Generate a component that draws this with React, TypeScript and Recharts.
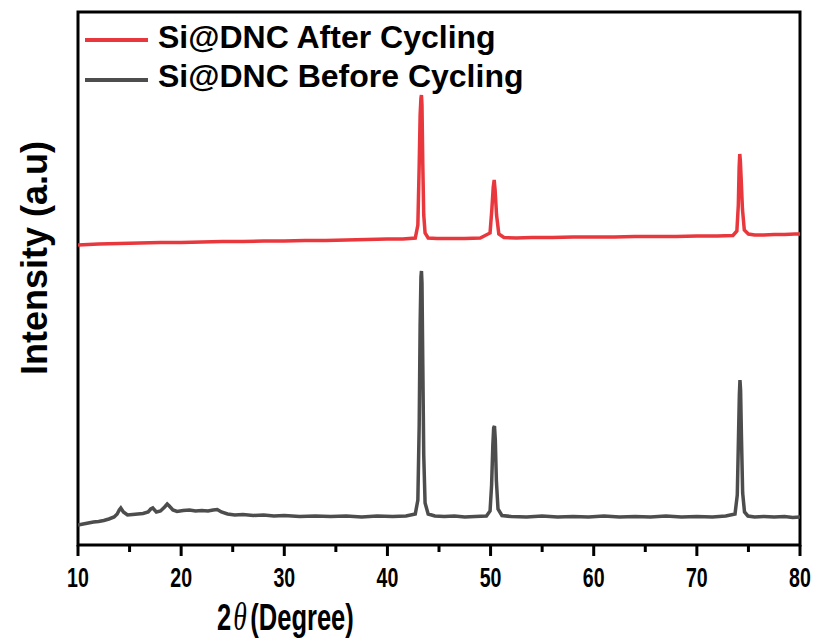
import React from 'react';
import { LineChart, Line, XAxis, YAxis, ReferenceArea, Legend } from 'recharts';

// 2θ (degree) and intensity (a.u.) for each pattern
const beforeTheta = [10, 10.5, 11, 11.5, 12, 12.5, 13, 13.5, 13.8, 14.0, 14.15, 14.4, 14.8, 15.3, 15.8, 16.3, 16.8, 17.05, 17.25, 17.6, 18.0, 18.4, 18.65, 18.85, 19.2, 19.6, 20.2, 20.8, 21.4, 22.0, 22.6, 23.1, 23.5, 23.9, 24.5, 25.2, 26.0, 27.0, 28.0, 29.0, 30.0, 31.5, 33.0, 34.5, 36.0, 37.5, 39.0, 40.5, 41.8, 42.7, 42.95, 43.08, 43.17, 43.25, 43.3, 43.35, 43.43, 43.52, 43.65, 43.95, 44.6, 45.5, 46.5, 47.5, 48.5, 49.6, 49.95, 50.1, 50.22, 50.3, 50.38, 50.46, 50.56, 50.72, 51.1, 52.0, 53.5, 55.0, 56.5, 58.0, 59.5, 61.0, 62.5, 64.0, 65.5, 67.0, 68.5, 70.0, 71.5, 72.8, 73.7, 73.92, 74.04, 74.12, 74.18, 74.24, 74.32, 74.44, 74.62, 74.95, 75.6, 76.5, 77.5, 78.5, 79.3, 80];
const beforeIntensity = [20, 21, 22, 23, 23.5, 24.5, 26, 28, 31, 35, 37, 33, 30, 30.5, 31, 31.5, 33, 36, 37, 33, 34, 38, 41, 39, 35, 33.5, 34.5, 35, 34, 34.5, 34, 35, 35.5, 33, 31, 30, 30.5, 29.5, 30, 29, 29.5, 28.5, 29, 28.5, 29, 28, 29, 28.5, 29, 31, 45, 120, 220, 268, 274, 262, 180, 90, 42, 31, 29, 28.5, 29, 28, 28.5, 29, 34, 60, 100, 117, 119, 105, 65, 36, 29.5, 28.5, 28, 29, 28, 28.5, 28, 29, 28, 28.5, 28, 29, 28, 28.5, 28, 29, 31, 50, 110, 150, 165, 155, 110, 52, 33, 29, 28, 28.5, 28, 28.5, 27.5, 28];

const afterTheta = [10, 12, 14, 16, 18, 20, 22, 24, 26, 28, 30, 32, 34, 36, 38, 40, 41.5, 42.7, 42.95, 43.08, 43.17, 43.25, 43.3, 43.35, 43.43, 43.52, 43.65, 43.95, 44.8, 46.0, 47.5, 49.0, 49.95, 50.12, 50.26, 50.35, 50.44, 50.58, 50.8, 51.3, 52.5, 54.0, 56.0, 58.0, 60.0, 62.0, 64.0, 66.0, 68.0, 70.0, 72.0, 73.5, 73.88, 74.02, 74.1, 74.16, 74.22, 74.3, 74.42, 74.6, 75.0, 75.6, 76.5, 77.5, 78.5, 79.5, 80];
const afterIntensity = [300, 301, 301.5, 302, 302.5, 302.5, 303, 303.5, 303.5, 304, 304, 304.5, 304.5, 305, 305.5, 306, 306, 307, 320, 380, 430, 447, 450, 440, 380, 330, 312, 307, 306.5, 306.5, 306.5, 307, 312, 335, 358, 365, 355, 330, 311, 307.5, 307, 307.5, 307.5, 308, 308, 308, 308.5, 308.5, 308.5, 309, 309, 309.5, 314, 340, 378, 391, 384, 365, 336, 315, 311, 310, 310, 310.5, 310.5, 311, 311];

const xTicks = [10, 15, 20, 25, 30, 35, 40, 45, 50, 55, 60, 65, 70, 75, 80];
const seriesNames = ['Si@DNC After Cycling', 'Si@DNC Before Cycling'];
const seriesColors = ['#e8383d', '#4d4d4d'];

const afterData = afterTheta.map((x, i) => ({ x, y: afterIntensity[i] }));
const beforeData = beforeTheta.map((x, i) => ({ x, y: beforeIntensity[i] }));

const sans = "'Liberation Sans', Arial, sans-serif";

const XTick = (props: any) => {
  const { x, y, payload } = props;
  const major = payload.value % 10 === 0;
  return (
    <g>
      <line x1={x} x2={x} y1={y} y2={y + (major ? 11 : 7)} stroke="#000" strokeWidth={3} />
      {major && (
        <text
          transform={`translate(${x} ${y + 42}) scale(0.7 1)`}
          x={0}
          y={0}
          textAnchor="middle"
          fontFamily={sans}
          fontWeight="bold"
          fontSize={28}
          fill="#000"
        >
          {payload.value}
        </text>
      )}
    </g>
  );
};

const LegendContent = () => (
  <svg width={560} height={100} style={{ display: 'block' }}>
    {seriesNames.map((name, i) => (
      <g key={name}>
        <line x1={85} x2={148} y1={40 + i * 40} y2={40 + i * 40} stroke={seriesColors[i]} strokeWidth={4} />
        <text x={158} y={48 + i * 39} fontFamily={sans} fontWeight="bold" fontSize={32} fill="#000">
          {name}
        </text>
      </g>
    ))}
  </svg>
);

export default function App() {
  return (
    <div style={{ position: 'absolute', left: 0, top: 0, background: '#fff' }}>
      <LineChart width={819} height={643} margin={{ top: 12, right: 19, left: 0, bottom: 0 }}>
        <XAxis
          dataKey="x"
          type="number"
          domain={[10, 80]}
          ticks={xTicks}
          allowDataOverflow
          axisLine={false}
          tickLine={false}
          tickSize={0}
          tickMargin={0}
          height={98}
          tick={<XTick />}
          interval={0}
          label={() => (
            <g transform="translate(217 630) scale(0.69 1)">
              <text x={0} y={0} textAnchor="start" fontFamily={sans} fontWeight="bold" fontSize={37} fill="#000">
                2
                <tspan fontStyle="italic" fontFamily="'Liberation Serif', serif" fontWeight="normal" fontSize={40} dx={3}>θ</tspan>
                <tspan dx={5}>(Degree)</tspan>
              </text>
            </g>
          )}
        />
        <YAxis
          type="number"
          domain={[0, 533]}
          allowDataOverflow
          width={78}
          tick={false}
          tickLine={false}
          axisLine={false}
          label={() => (
            <text
              x={47}
              y={258}
              transform="rotate(-90, 47, 258)"
              textAnchor="middle"
              fontFamily={sans}
              fontWeight="bold"
              fontSize={36}
              fill="#000"
            >
              Intensity (a.u)
            </text>
          )}
        />
        <Legend
          layout="vertical"
          align="center"
          verticalAlign="middle"
          wrapperStyle={{ position: 'absolute', left: 0, top: 0, width: 560, height: 100 }}
          content={<LegendContent />}
        />
        <Line data={afterData} dataKey="y" name={seriesNames[0]} stroke={seriesColors[0]} strokeWidth={3.5} dot={false} isAnimationActive={false} type="linear" />
        <Line data={beforeData} dataKey="y" name={seriesNames[1]} stroke={seriesColors[1]} strokeWidth={3.5} dot={false} isAnimationActive={false} type="linear" />
        <ReferenceArea x1={10} x2={80} y1={0} y2={533} fill="none" stroke="#000" strokeWidth={3} ifOverflow="visible" />
      </LineChart>
    </div>
  );
}
